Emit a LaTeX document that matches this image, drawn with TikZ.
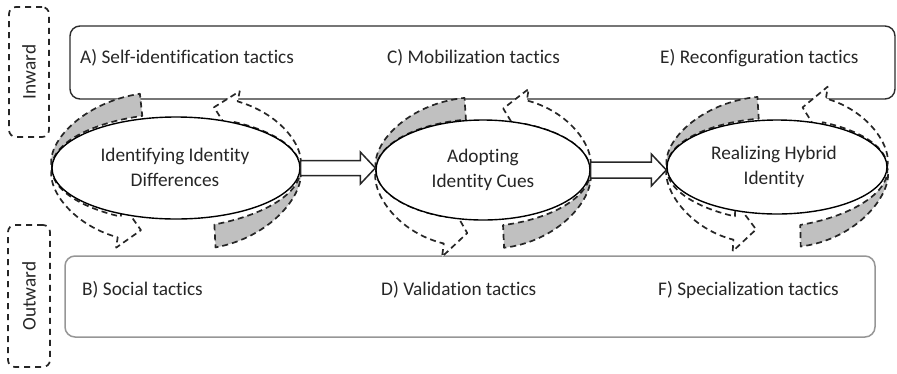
\documentclass[tikz,border=0pt]{standalone}
\usepackage{fontspec}
\setmainfont[Ligatures={NoCommon}]{Carlito}
\usetikzlibrary{calc,shapes.geometric}
\definecolor{bandgray}{RGB}{192,192,192}
\definecolor{ink}{RGB}{38,38,38}
\definecolor{lightframe}{RGB}{150,150,150}
\definecolor{darkframe}{RGB}{45,45,45}
\tikzset{
  dashline/.style={draw=ink, line width=1.7pt, dash pattern=on 6pt off 4pt, line join=round},
  grayband/.style={dashline, fill=bandgray},
  hollowarrow/.style={dashline, fill=white},
  cyc/.style={ellipse, draw=black, line width=1.4pt, fill=white, inner sep=0pt},
  cyctext/.style={font=\fontsize{19.3}{25}\selectfont, text=ink, align=center, inner sep=0pt},
  lbl/.style={font=\fontsize{19.3}{23}\selectfont, text=ink, anchor=base west, inner sep=0pt},
  sidebox/.style={draw=ink, line width=1.7pt, dash pattern=on 6pt off 5pt, rounded corners=7pt, inner sep=0pt},
  sidetext/.style={font=\fontsize{19.3}{23}\selectfont, text=ink, rotate=90, inner sep=0pt},
  blockarrow/.style={draw=ink, line width=1.5pt, fill=white, line join=miter},
}
% crescent band: cx cy rx ry t0 t1 c a b
\newcommand\mygrayband[9]{%
  \path[grayband]
    plot[domain=#5:#6,samples=40,variable=\t]
      ({#1+(#3+#7*(\t-#5)/(#6-#5))*cos(\t)},{#2+(#4+#7*(\t-#5)/(#6-#5))*sin(\t)})
    -- plot[domain=#6:#5,samples=40,variable=\t]
      ({#1+(#3+#8*sin(90*(\t-#5)/(#6-#5)))*cos(\t)},{#2+(#4+#9*sin(90*(\t-#5)/(#6-#5)))*sin(\t)})
    -- cycle;}
% hollow curved arrow: cx cy rx ry t0 t1 c a b
\newcommand\mydasharrow[9]{%
  \coordinate (pin) at ({#1+(#3+#7)*cos(#6)},{#2+(#4+#7)*sin(#6)});
  \coordinate (pout) at ({#1+(#3+#8)*cos(#6)},{#2+(#4+#9)*sin(#6)});
  \coordinate (pmid) at ($(pin)!0.5!(pout)$);
  \path[hollowarrow]
    plot[domain=#5:#6,samples=40,variable=\t]
      ({#1+(#3+#7*(\t-#5)/(#6-#5))*cos(\t)},{#2+(#4+#7*(\t-#5)/(#6-#5))*sin(\t)})
    -- ($(pin)!-0.6!(pout)$) -- ($(pmid)!22pt!-90:(pin)$) -- ($(pout)!-0.5!(pin)$) -- (pout)
    -- plot[domain=#6:#5,samples=40,variable=\t]
      ({#1+(#3+#8*sin(90*(\t-#5)/(#6-#5)))*cos(\t)},{#2+(#4+#9*sin(90*(\t-#5)/(#6-#5)))*sin(\t)})
    -- cycle;}
\begin{document}
\begin{tikzpicture}[x=1pt,y=1pt]
\useasboundingbox (0,0) rectangle (897,-373);

% side labels
\node[sidebox, minimum width=40pt, minimum height=130pt] (inw) at (29,-72) {};
\node[sidetext] (inwt) at (inw) {Inward};
\node[sidebox, minimum width=42pt, minimum height=142pt] (outw) at (29,-296) {};
\node[sidetext] (outwt) at (outw) {Outward};

% tactic boxes
\node[draw=darkframe, line width=1.4pt, rounded corners=10pt, minimum width=825pt, minimum height=73pt, inner sep=0pt] (inner) at (482.5,-62.5) {};
\node[draw=lightframe, line width=1.5pt, rounded corners=10pt, minimum width=810pt, minimum height=81pt, inner sep=0pt] (outer) at (470,-296.5) {};
\node[lbl] (A) at (80,-63) {A) Self-identification tactics};
\node[lbl] (C) at (387,-63) {C) Mobilization tactics};
\node[lbl] (E) at (660,-63) {E) Reconfiguration tactics};
\node[lbl] (B) at (82,-295) {B) Social tactics};
\node[lbl] (D) at (381,-295) {D) Validation tactics};
\node[lbl] (F) at (658,-295) {F) Specialization tactics};

% cycle 1: centre (176,-168), radii 124 x 51
\mygrayband{176}{-168}{124}{51}{180}{105.4}{3}{12}{26}
\mygrayband{176}{-168}{124}{51}{0}{-73.1}{8}{12}{32}
\mydasharrow{176}{-168}{124}{51}{0}{62.6}{1}{10}{24}
\mydasharrow{176}{-168}{124}{51}{180}{244.2}{3}{10}{26}
% cycle 2: centre (483,-170), radii 107 x 50
\mygrayband{483}{-170}{107}{50}{180}{99.1}{1}{10}{23}
\mygrayband{483}{-170}{107}{50}{0}{-79.8}{6}{12}{29}
\mydasharrow{483}{-170}{107}{50}{0}{68}{0}{10}{25}
\mydasharrow{483}{-170}{107}{50}{180}{250.4}{0}{10}{28}
% cycle 3: centre (777,-167), radii 110 x 47
\mygrayband{777}{-167}{110}{47}{180}{99.4}{2}{10}{24}
\mygrayband{777}{-167}{110}{47}{0}{-79}{12}{14}{34}
\mydasharrow{777}{-167}{110}{47}{0}{65.9}{2}{10}{28}
\mydasharrow{777}{-167}{110}{47}{180}{248.7}{6}{10}{31}

% stages
\node[cyc, minimum width=248pt, minimum height=102pt] (e1) at (176,-168) {};
\node[cyc, minimum width=214pt, minimum height=100pt] (e2) at (483,-170) {};
\node[cyc, minimum width=220pt, minimum height=94pt] (e3) at (777,-167) {};
\node[cyctext] (t1) at (175,-167) {Identifying Identity\\Differences};
\node[cyctext] (t2) at (483,-170) {Adopting\\Identity Cues};
\node[cyctext] (t3) at (774,-167) {Realizing Hybrid\\Identity};

% block arrows between stages
\draw[blockarrow] let \p1=(e1.east), \p2=(e2.west) in
  (\x1,\y1+7.5pt) -- (\x2-15pt,\y1+7.5pt) -- (\x2-15pt,\y1+16pt) -- (\x2,\y1)
  -- (\x2-15pt,\y1-16pt) -- (\x2-15pt,\y1-7.5pt) -- (\x1,\y1-7.5pt) -- cycle;
\draw[blockarrow] let \p1=(e2.east), \p2=(e3.west) in
  (\x1,\y1+8pt) -- (\x2-15pt,\y1+8pt) -- (\x2-15pt,\y1+16pt) -- (\x2,\y1)
  -- (\x2-15pt,\y1-16pt) -- (\x2-15pt,\y1-8pt) -- (\x1,\y1-8pt) -- cycle;
\end{tikzpicture}
\end{document}
